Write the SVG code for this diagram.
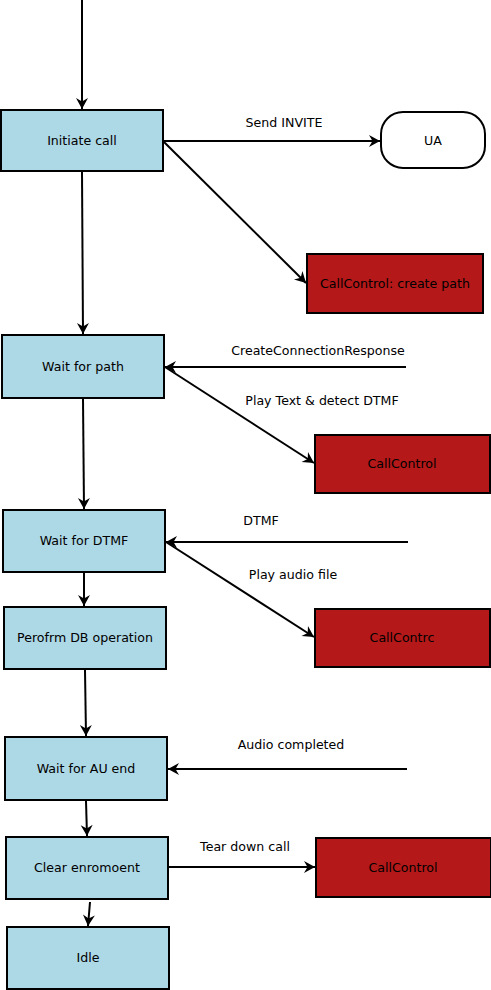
<svg xmlns="http://www.w3.org/2000/svg" width="491" height="990" viewBox="0 0 491 990">
  <style>
    .state rect { fill: #add8e6; stroke: #000; stroke-width: 2; }
    .ext rect { fill: #b41818; stroke: #000; stroke-width: 2; }
    .term rect { fill: #fff; stroke: #000; stroke-width: 2; }
    text { font-family: "DejaVu Sans", sans-serif; font-size: 12.6px; fill: #000; text-anchor: middle; }
    .edges line, .edges path { stroke: #000; stroke-width: 2; fill: none; marker-end: url(#arrow); }
  </style>
  <defs>
    <marker id="arrow" markerUnits="userSpaceOnUse" viewBox="-12 -7 14 14" refX="0" refY="0" markerWidth="14" markerHeight="14" orient="auto">
      <path d="M0,0 L-11,-6 L-7.5,0 L-11,6 Z" fill="#000"/>
    </marker>
  </defs>

  <!-- states -->
  <g id="initiate-call" class="state">
    <rect x="1" y="110" width="162" height="61"/>
    <text x="82" y="145">Initiate call</text>
  </g>
  <g id="ua" class="term">
    <rect x="381" y="112" width="104" height="56" rx="22" ry="22"/>
    <text x="433" y="145">UA</text>
  </g>
  <g id="cc-create-path" class="ext">
    <rect x="307" y="254" width="176" height="59"/>
    <text x="395" y="288">CallControl: create path</text>
  </g>
  <g id="wait-path" class="state">
    <rect x="2" y="335" width="162" height="63"/>
    <text x="83" y="371">Wait for path</text>
  </g>
  <g id="cc-play-text" class="ext">
    <rect x="315" y="435" width="175" height="58"/>
    <text x="402" y="468">CallControl</text>
  </g>
  <g id="wait-dtmf" class="state">
    <rect x="3" y="510" width="162" height="62"/>
    <text x="84" y="545">Wait for DTMF</text>
  </g>
  <g id="cc-play-audio" class="ext">
    <rect x="315" y="609" width="175" height="58"/>
    <text x="402" y="642">CallContrc</text>
  </g>
  <g id="db-operation" class="state">
    <rect x="4" y="607" width="162" height="62"/>
    <text x="85" y="642">Perofrm DB operation</text>
  </g>
  <g id="wait-au-end" class="state">
    <rect x="5" y="737" width="162" height="63"/>
    <text x="86" y="773">Wait for AU end</text>
  </g>
  <g id="clear-env" class="state">
    <rect x="6" y="837" width="162" height="62"/>
    <text x="87" y="872">Clear enromoent</text>
  </g>
  <g id="cc-teardown" class="ext">
    <rect x="316" y="838" width="175" height="59"/>
    <text x="403" y="872">CallControl</text>
  </g>
  <g id="idle" class="state">
    <rect x="7" y="927" width="162" height="62"/>
    <text x="88" y="962">Idle</text>
  </g>

  <!-- transitions -->
  <g class="edges">
    <line x1="82" y1="0" x2="82" y2="109"/>
    <line x1="163" y1="141" x2="380" y2="141"/>
    <line x1="163" y1="141" x2="306" y2="283"/>
    <line x1="82" y1="172" x2="83" y2="334"/>
    <line x1="406" y1="367" x2="165" y2="367"/>
    <line x1="165" y1="367" x2="314" y2="463"/>
    <line x1="83" y1="399" x2="84" y2="509"/>
    <line x1="408" y1="542" x2="166" y2="542"/>
    <line x1="166" y1="542" x2="314" y2="637"/>
    <line x1="84" y1="573" x2="84" y2="606"/>
    <line x1="85" y1="670" x2="86" y2="736"/>
    <line x1="407" y1="769" x2="168" y2="769"/>
    <line x1="86" y1="801" x2="87" y2="836"/>
    <line x1="168" y1="867" x2="315" y2="867"/>
    <line x1="90" y1="902" x2="88" y2="926"/>
  </g>

  <!-- transition labels -->
  <g id="labels">
    <text x="284" y="127">Send INVITE</text>
    <text x="318" y="355">CreateConnectionResponse</text>
    <text x="322" y="405">Play Text &amp; detect DTMF</text>
    <text x="261" y="525">DTMF</text>
    <text x="293" y="579">Play audio file</text>
    <text x="291" y="749">Audio completed</text>
    <text x="245" y="851">Tear down call</text>
  </g>
</svg>
